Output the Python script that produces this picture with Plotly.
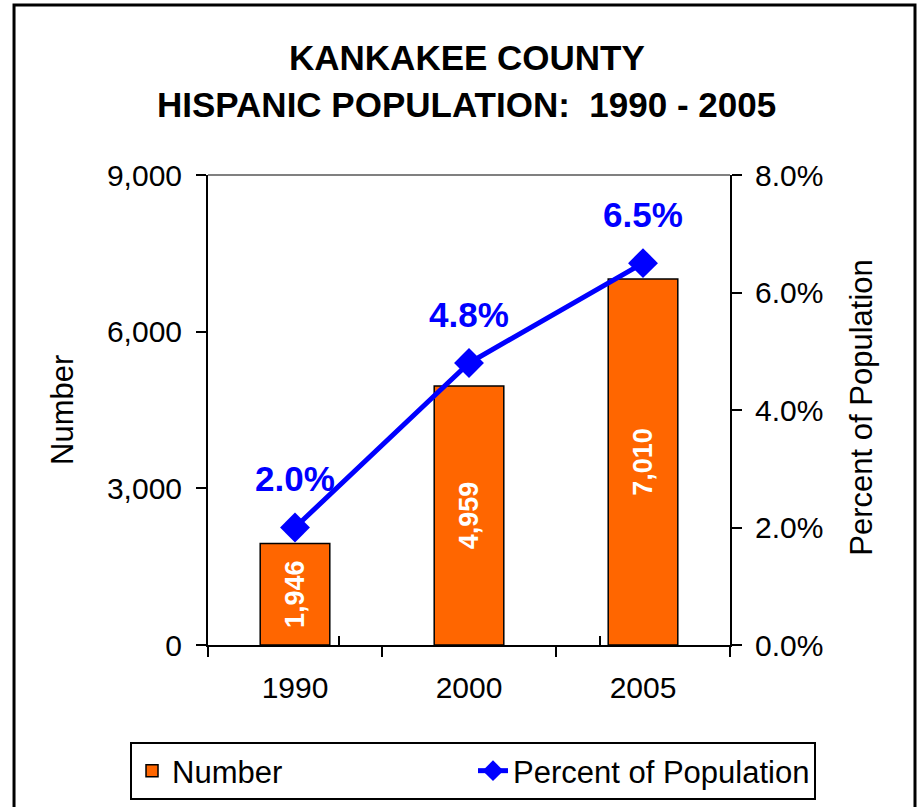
import plotly.graph_objects as go

years = ["1990", "2000", "2005"]
numbers = [1946, 4959, 7010]
pct = [0.020, 0.048, 0.065]
num_ticks = [0, 3000, 6000, 9000]
pct_ticks = [0.0, 0.02, 0.04, 0.06, 0.08]

FONT = "Liberation Sans, Arial, sans-serif"
ORANGE = "#FF6600"
BLUE = "#0000FF"

fig = go.Figure()
fig.add_trace(go.Bar(
    x=years, y=numbers, name="Number",
    marker=dict(color=ORANGE, line=dict(color="black", width=1.5)),
    width=0.4,
    text=[f"{v:,}" for v in numbers], textposition="inside",
    insidetextanchor="middle", textangle=-90,
    textfont=dict(family=FONT, size=27, color="white", weight="bold"),
    xaxis="x", yaxis="y",
))
fig.add_trace(go.Scatter(
    x=years, y=pct, name="Percent of Population", mode="lines+markers",
    line=dict(color=BLUE, width=5),
    marker=dict(symbol="diamond", size=23, color=BLUE),
    xaxis="x", yaxis="y2",
))
# invisible helper trace so the overlay x axis knows the categories (for crossing ticks)
fig.add_trace(go.Scatter(
    x=years, y=numbers, mode="none", showlegend=False, hoverinfo="skip",
    xaxis="x2", yaxis="y",
))

annotations = []
for i, p in enumerate(pct):
    annotations.append(dict(
        x=i, y=p, xref="x", yref="y2", text=f"{p*100:.1f}%", showarrow=False,
        xanchor="center", yanchor="middle",
        yshift=49, font=dict(family=FONT, size=35, color=BLUE, weight="bold"),
    ))
annotations += [
    dict(x=0.496, y=1.251, xref="paper", yref="paper", text="KANKAKEE COUNTY",
         xanchor="center", yanchor="middle",
         showarrow=False, font=dict(family=FONT, size=35, color="black", weight="bold")),
    dict(x=0.496, y=1.149, xref="paper", yref="paper", text="HISPANIC POPULATION:  1990 - 2005",
         xanchor="center", yanchor="middle",
         showarrow=False, font=dict(family=FONT, size=35, color="black", weight="bold")),
    dict(x=-0.2797, y=0.5, xref="paper", yref="paper", text="Number", textangle=-90,
         xanchor="center", yanchor="middle",
         showarrow=False, font=dict(family=FONT, size=31, color="black")),
    dict(x=1.2529, y=0.505, xref="paper", yref="paper", text="Percent of Population", textangle=-90,
         xanchor="center", yanchor="middle",
         showarrow=False, font=dict(family=FONT, size=31, color="black")),
]

axis_common = dict(showline=True, linecolor="black", linewidth=2, ticks="outside",
                   ticklen=10, tickwidth=2, tickcolor="black", showgrid=False, zeroline=False,
                   automargin=False,
                   tickfont=dict(family=FONT, size=30, color="black"))
inner_ticks = dict(ticks="inside", ticklen=9, tickwidth=2, tickcolor="black",
                   showticklabels=False, showline=False, showgrid=False, zeroline=False,
                   automargin=False)

fig.update_layout(
    width=919, height=807,
    margin=dict(l=208, r=189, t=175, b=162, autoexpand=False),
    paper_bgcolor="white", plot_bgcolor="white",
    showlegend=True,
    xaxis=dict(type="category", categoryorder="array", categoryarray=years,
               tickson="boundaries", ticklabelstandoff=15, **axis_common),
    xaxis2=dict(type="category", categoryorder="array", categoryarray=years,
                overlaying="x", anchor="y", side="bottom", tickson="boundaries", **inner_ticks),
    yaxis=dict(range=[0, 9000], tickvals=num_ticks, tickformat=",",
               ticklabelstandoff=8, **axis_common),
    yaxis2=dict(range=[0, 0.08], tickvals=pct_ticks, tickformat=".1%", overlaying="y",
                side="right", anchor="x", ticklabelstandoff=7, **axis_common),
    yaxis3=dict(overlaying="y", anchor="x", side="left", range=[0, 9000],
                tickvals=num_ticks, **inner_ticks),
    yaxis4=dict(overlaying="y", anchor="x", side="right", range=[0, 0.08],
                tickvals=pct_ticks, **inner_ticks),
    legend=dict(orientation="h", x=-0.1494, xanchor="left", y=-0.2064, yanchor="top",
                bordercolor="black", borderwidth=2, bgcolor="white",
                font=dict(family=FONT, size=31, color="black"),
                entrywidth=296),
    annotations=annotations,
    shapes=[
        dict(type="line", xref="paper", yref="paper", x0=0, x1=1, y0=1, y1=1,
             line=dict(color="#808080", width=2), layer="below"),
        dict(type="rect", xref="paper", yref="paper", x0=-0.3716, x1=1.3544,
             y0=-0.37, y1=1.3617, line=dict(color="black", width=3)),
    ],
)

fig.write_html(
    "out.html",
    config={"displayModeBar": False},
    post_script="document.body.style.margin='0';document.body.style.overflow='hidden';",
)
